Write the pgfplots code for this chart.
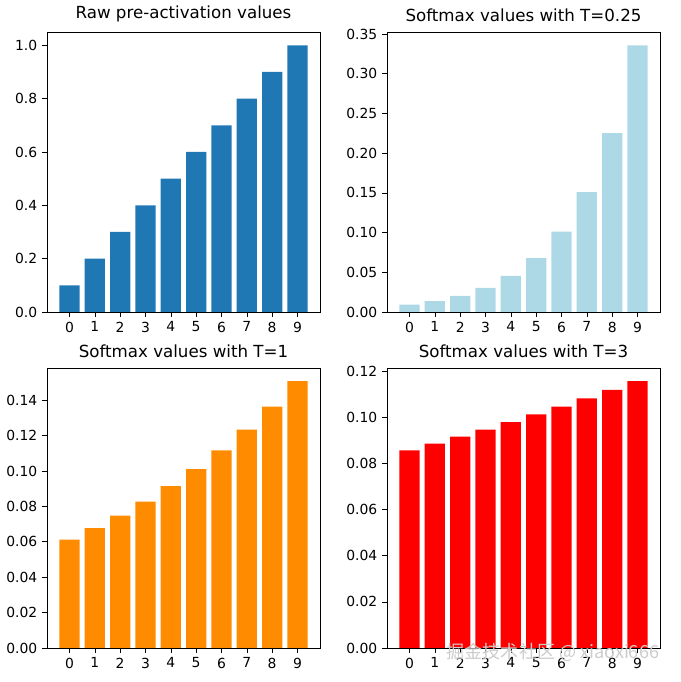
\documentclass[border=0pt]{standalone}
\usepackage{pgfplots}
\pgfplotsset{compat=1.18}
\usepackage{fontspec}
\setmainfont{DejaVu Sans}
\newfontfamily\cjk{Noto Sans CJK SC}
\definecolor{czero}{HTML}{1F77B4}
\definecolor{lblue}{HTML}{ADD8E6}
\definecolor{dorange}{HTML}{FF8C00}
\pgfplotsset{
  every axis/.append style={
    scale only axis, width=196.6pt, height=201.6pt,
    anchor=south west, xmin=-0.89, xmax=9.89, ymin=0,
    xtick={0,...,9}, tick align=outside, tick style={black, thin},
    major tick length=3.5pt, axis line style={black, thin},
    xtick pos=bottom, ytick pos=left,
    /pgf/number format/assume math mode=true,
    tick label style={font=\fontsize{10}{12}\selectfont},
    title style={font=\fontsize{12}{14}\selectfont, yshift=-2pt},
    yticklabel style={/pgf/number format/fixed,/pgf/number format/fixed zerofill},
  },
  mybar/.style={ybar, bar width=0.8, draw=none, fill=#1},
}
\begin{document}
\begin{tikzpicture}
\useasboundingbox (0pt,0pt) rectangle (489.6pt,491pt);
\begin{axis}[at={(33.8pt,266.4pt)}, ymax=1.05, ytick={0,0.2,...,1.0},
  yticklabel style={/pgf/number format/precision=1}, title={Raw pre-activation values}]
\addplot[mybar=czero] coordinates {(0,0.1)(1,0.2)(2,0.3)(3,0.4)(4,0.5)(5,0.6)(6,0.7)(7,0.8)(8,0.9)(9,1.0)};
\end{axis}
\begin{axis}[at={(278.6pt,266.4pt)}, ymax=0.3526, ytick={0,0.05,...,0.351},
  yticklabel style={/pgf/number format/precision=2}, title={Softmax values with T=0.25}]
\addplot[mybar=lblue] coordinates {(0,0.00918)(1,0.01369)(2,0.02042)(3,0.03047)(4,0.04545)(5,0.06780)(6,0.10115)(7,0.15090)(8,0.22511)(9,0.33583)};
\end{axis}
\begin{axis}[at={(33.8pt,24.5pt)}, ymax=0.1582, ytick={0,0.02,...,0.141},
  yticklabel style={/pgf/number format/precision=2}, title={Softmax values with T=1}]
\addplot[mybar=dorange] coordinates {(0,0.06128)(1,0.06772)(2,0.07484)(3,0.08271)(4,0.09141)(5,0.10103)(6,0.11165)(7,0.12339)(8,0.13637)(9,0.15071)};
\end{axis}
\begin{axis}[at={(278.6pt,24.5pt)}, ymax=0.1214, ytick={0,0.02,...,0.121},
  yticklabel style={/pgf/number format/precision=2}, title={Softmax values with T=3}]
\addplot[mybar=red] coordinates {(0,0.08568)(1,0.08858)(2,0.09158)(3,0.09469)(4,0.09790)(5,0.10122)(6,0.10465)(7,0.10819)(8,0.11186)(9,0.11565)};
\end{axis}
\node[anchor=east, text=gray!40, font=\cjk\fontsize{13}{15}\selectfont] at (478pt,21pt) {掘金技术社区 @ xiaoxi666};
\end{tikzpicture}
\end{document}
